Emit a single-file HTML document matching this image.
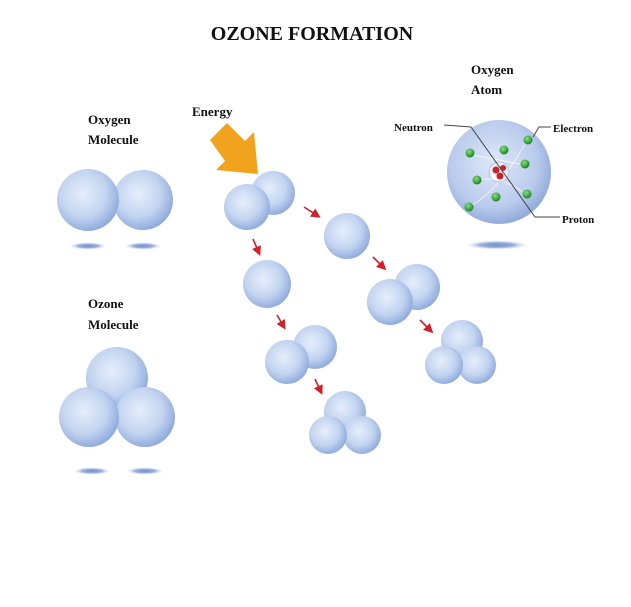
<!DOCTYPE html>
<html><head><style>
html,body{margin:0;padding:0;background:#fff;}
svg text{font-family:"Liberation Serif",serif;font-weight:bold;fill:#111;}
</style></head><body>
<svg width="631" height="602" viewBox="0 0 631 602" xmlns="http://www.w3.org/2000/svg">
<defs>
<radialGradient id="s" cx="0.42" cy="0.4" r="0.62">
<stop offset="0" stop-color="#e6eefb"/><stop offset="0.6" stop-color="#c3d4f0"/><stop offset="1" stop-color="#8eaadc"/>
</radialGradient>
<radialGradient id="a" cx="0.45" cy="0.42" r="0.6">
<stop offset="0" stop-color="#dfe8f8"/><stop offset="0.7" stop-color="#b9cbec"/><stop offset="1" stop-color="#8ea8d8"/>
</radialGradient>
<radialGradient id="sh" cx="0.5" cy="0.5" r="0.5">
<stop offset="0" stop-color="#7090cc"/><stop offset="0.5" stop-color="#9ab0dc"/><stop offset="1" stop-color="#fff" stop-opacity="0"/>
</radialGradient>
<radialGradient id="g" cx="0.4" cy="0.35" r="0.6">
<stop offset="0" stop-color="#8be07a"/><stop offset="1" stop-color="#1f8a2a"/>
</radialGradient>
<marker id="ar" markerWidth="6" markerHeight="6" refX="4" refY="3" orient="auto"><path d="M0,0 L6,3 L0,6 Z" fill="#d0202a"/></marker>
</defs>
<text x="312" y="40" text-anchor="middle" font-size="20">OZONE FORMATION</text>
<text x="88" y="124" font-size="13">Oxygen</text>
<text x="88" y="144" font-size="13">Molecule</text>
<text x="88" y="308" font-size="13">Ozone</text>
<text x="88" y="329" font-size="13">Molecule</text>
<text x="192" y="116" font-size="13">Energy</text>
<text x="471" y="74" font-size="13">Oxygen</text>
<text x="471" y="94" font-size="13">Atom</text>
<text x="394" y="131" font-size="11">Neutron</text>
<text x="553" y="132" font-size="11">Electron</text>
<text x="562" y="223" font-size="11">Proton</text>

<!-- big O2 -->
<ellipse cx="88" cy="246" rx="20" ry="4" fill="url(#sh)"/>
<ellipse cx="143" cy="246" rx="20" ry="4" fill="url(#sh)"/>
<circle cx="143" cy="200" r="30" fill="url(#s)"/>
<circle cx="88" cy="200" r="31" fill="url(#s)"/>
<!-- big O3 -->
<ellipse cx="92" cy="471" rx="20" ry="4" fill="url(#sh)"/>
<ellipse cx="145" cy="471" rx="20" ry="4" fill="url(#sh)"/>
<circle cx="117" cy="378" r="31" fill="url(#s)"/>
<circle cx="145" cy="417" r="30" fill="url(#s)"/>
<circle cx="89" cy="417" r="30" fill="url(#s)"/>

<!-- energy arrow -->
<path d="M210,140 L227,123 L245,141 L254,132 L258,174 L216,170 L225,161 Z" fill="#f2a31e"/>

<!-- small molecules -->
<circle cx="273" cy="193" r="22" fill="url(#s)"/>
<circle cx="247" cy="207" r="23" fill="url(#s)"/>
<circle cx="347" cy="236" r="23" fill="url(#s)"/>
<circle cx="267" cy="284" r="24" fill="url(#s)"/>
<circle cx="417" cy="287" r="23" fill="url(#s)"/>
<circle cx="390" cy="302" r="23" fill="url(#s)"/>
<circle cx="315" cy="347" r="22" fill="url(#s)"/>
<circle cx="287" cy="362" r="22" fill="url(#s)"/>
<circle cx="462" cy="341" r="21" fill="url(#s)"/>
<circle cx="477" cy="365" r="19" fill="url(#s)"/>
<circle cx="444" cy="365" r="19" fill="url(#s)"/>
<circle cx="345" cy="412" r="21" fill="url(#s)"/>
<circle cx="362" cy="435" r="19" fill="url(#s)"/>
<circle cx="328" cy="435" r="19" fill="url(#s)"/>

<!-- red arrows -->
<g stroke="#d0202a" stroke-width="1.6" marker-end="url(#ar)">
<line x1="304" y1="207" x2="318" y2="216"/>
<line x1="253" y1="239" x2="259" y2="253"/>
<line x1="373" y1="257" x2="384" y2="268"/>
<line x1="277" y1="315" x2="284" y2="327"/>
<line x1="420" y1="320" x2="431" y2="331"/>
<line x1="315" y1="379" x2="321" y2="392"/>
</g>

<!-- atom -->
<ellipse cx="497" cy="245" rx="34" ry="5" fill="url(#sh)"/>
<circle cx="499" cy="172" r="52" fill="url(#a)"/>
<g stroke="#fff" stroke-width="1" fill="none" opacity="0.7">
<path d="M469,207 Q500,190 527,140"/>
<path d="M476,180 Q500,175 524,193"/>
<path d="M472,155 Q500,160 525,165"/>
</g>
<circle cx="499" cy="172" r="10" fill="#e8eef8" stroke="#b8c4dc"/>
<circle cx="496" cy="170" r="3.5" fill="#c8202a"/><circle cx="503" cy="168" r="3" fill="#c8202a"/>
<circle cx="500" cy="176" r="3.5" fill="#c8202a"/><circle cx="494" cy="177" r="2.5" fill="#fff"/>
<g fill="url(#g)">
<circle cx="470" cy="153" r="4.5"/><circle cx="504" cy="150" r="4.5"/><circle cx="528" cy="140" r="4.5"/>
<circle cx="525" cy="164" r="4.5"/><circle cx="477" cy="180" r="4.5"/><circle cx="496" cy="197" r="4.5"/>
<circle cx="527" cy="194" r="4.5"/><circle cx="469" cy="207" r="4.5"/>
</g>
<g stroke="#444" stroke-width="1" fill="none">
<path d="M444,125 L471,127 L535,217 L560,217"/>
<path d="M533,137 L539,127 L551,127"/>
</g>
</svg>
</body></html>
